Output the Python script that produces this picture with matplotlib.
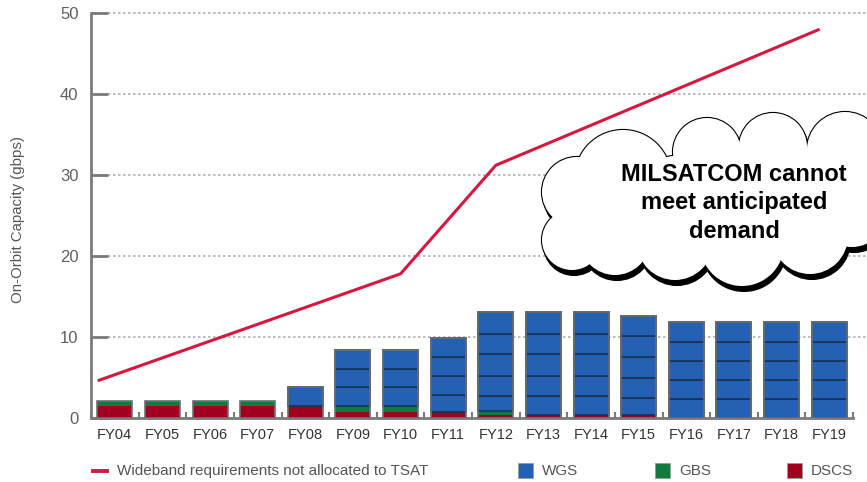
import numpy as np
import matplotlib
matplotlib.use("Agg")
import matplotlib.pyplot as plt
from matplotlib.patches import Circle, Ellipse, Rectangle
from matplotlib.lines import Line2D

plt.rcParams['font.family'] = ['Liberation Sans', 'DejaVu Sans']

# ---- data ----
years = np.arange(2004, 2020)
labels = ["FY04", "FY05", "FY06", "FY07", "FY08", "FY09", "FY10", "FY11",
          "FY12", "FY13", "FY14", "FY15", "FY16", "FY17", "FY18", "FY19"]
dscs = [1.5, 1.5, 1.5, 1.5, 1.5, 0.8, 0.8, 0.8, 0.4, 0.4, 0.4, 0.4, 0, 0, 0, 0]
gbs = [0.6, 0.6, 0.6, 0.6, 0, 0.7, 0.7, 0, 0.5, 0, 0, 0, 0, 0, 0, 0]
# WGS capacity per satellite, stacked
wgs = [[], [], [], [],
       [2.3],
       [2.3, 2.3, 2.3],
       [2.3, 2.3, 2.3],
       [2.1, 2.3, 2.3, 2.4],
       [1.8, 2.5, 2.7, 2.5, 2.7],
       [2.3, 2.5, 2.7, 2.5, 2.7],
       [2.3, 2.5, 2.7, 2.5, 2.7],
       [2.1, 2.4, 2.6, 2.6, 2.5],
       [2.3, 2.4, 2.3, 2.4, 2.5],
       [2.3, 2.4, 2.3, 2.4, 2.5],
       [2.3, 2.4, 2.3, 2.4, 2.5],
       [2.3, 2.4, 2.3, 2.4, 2.5]]
req_x = [2003.64, 2010, 2012, 2018.8]
req_y = [4.6, 17.8, 31.2, 48.0]

C_WGS = "#2561b2"
C_GBS = "#137a3e"
C_DSCS = "#a3001f"
C_LINE = "#d6173f"
GRAY = "#7a7a7a"
TXT = "#555555"

fig = plt.figure(figsize=(8.67, 4.82), dpi=100)
W, H = 867, 482
ax = fig.add_axes([91 / W, 1 - 418 / H, (853 - 91) / W, (418 - 13) / H])

bw = 0.735
ax.bar(years, dscs, bw, color=C_DSCS, edgecolor="none", zorder=3)
ax.bar(years, gbs, bw, bottom=dscs, color=C_GBS, edgecolor="none", zorder=3)
base = np.array(dscs) + np.array(gbs)
for i, yr in enumerate(years):
    b = base[i]
    for seg in wgs[i]:
        ax.bar(yr, seg, bw, bottom=b, color=C_WGS, edgecolor="#16335e",
               linewidth=1.2, zorder=3)
        b += seg
    if b > 0:
        ax.bar(yr, b, bw, color="none", edgecolor="#707070",
               linewidth=1.2, zorder=4)

ax.plot(req_x, req_y, color=C_LINE, lw=2.2, zorder=5, solid_capstyle="butt")

ax.set_xlim(2003.5, 2019.5)
ax.set_ylim(0, 50)
for s in ["top", "right"]:
    ax.spines[s].set_visible(False)
for s in ["left", "bottom"]:
    ax.spines[s].set_color(GRAY)
    ax.spines[s].set_linewidth(2)

ax.set_yticks([0, 10, 20, 30, 40, 50])
ax.tick_params(axis="y", direction="in", length=12, width=2, color=GRAY,
               labelcolor="#606060", labelsize=12, pad=9)
ax.set_xticks(years)
ax.set_xticklabels(labels)
ax.tick_params(axis="x", which="major", length=0, labelsize=10.5,
               labelcolor="#333333", pad=7)
ax.set_xticks(np.arange(2003.5, 2020, 1), minor=True)
ax.tick_params(axis="x", which="minor", direction="in", length=4, width=1.5,
               color=GRAY)

# dotted grid running to the figure edge
x0 = 17 / 762
for yv in [10, 20, 30, 40, 50]:
    ax.plot([x0, 1.03], [yv, yv], transform=ax.get_yaxis_transform(),
            color="#b0b0b0", lw=1.2, ls=(0, (1.5, 1.5)), zorder=1, clip_on=False)

fig.text(18 / W, 1 - 220 / H, "On-Orbit Capacity (gbps)", rotation=90,
         ha="center", va="center", fontsize=10.8, color=TXT)

# legend
lax = fig.add_axes([0, 0, 1, 1], zorder=10)
lax.set_xlim(0, W)
lax.set_ylim(H, 0)
lax.axis("off")
lax.add_line(Line2D([93, 107], [471, 471], color=C_LINE, lw=2.8))
lax.text(117, 471, "Wideband requirements not allocated to TSAT", va="center",
         fontsize=11, color=TXT)
for xs, col, name in [(518, C_WGS, "WGS"), (655, C_GBS, "GBS"), (787, C_DSCS, "DSCS")]:
    lax.add_patch(Rectangle((xs, 463), 15, 15, facecolor=col, edgecolor="#999999", lw=0.6))
    lax.text(xs + 24, 471, name, va="center", fontsize=11, color=TXT)

# cloud callout
cloud = [(623, 178, 48), (707, 152, 34), (773, 147, 34), (845, 150, 38),
         (577, 192, 35), (572, 240, 30), (615, 240, 35), (675, 242, 38),
         (742, 244, 42), (810, 236, 38), (852, 212, 35)]
body = [Ellipse((715, 208), 260, 110), Circle((720, 200), 60), Circle((790, 195), 50),
        Circle((640, 205), 45)]


def shapes():
    out = [Circle((cx, cy), r) for cx, cy, r in cloud]
    for p in body:
        if isinstance(p, Circle):
            out.append(Circle(p.center, p.radius))
        else:
            out.append(Ellipse(p.center, p.width, p.height))
    return out


for p in shapes():
    p.set_transform(matplotlib.transforms.Affine2D().translate(2, 5) + lax.transData)
    p.set(facecolor="black", edgecolor="black", lw=1.5, zorder=1, clip_on=False)
    lax.add_patch(p)
for p in shapes():
    p.set(facecolor="white", edgecolor="black", lw=1.6, zorder=2, clip_on=False)
    lax.add_patch(p)
for p in shapes():
    p.set(facecolor="white", edgecolor="none", zorder=3, clip_on=False)
    lax.add_patch(p)
lax.text(734, 203, "MILSATCOM cannot\nmeet anticipated\ndemand", ha="center",
         va="center", fontsize=17, fontweight="bold", zorder=4,
         linespacing=1.3)

fig.savefig("out.png", dpi=100)
